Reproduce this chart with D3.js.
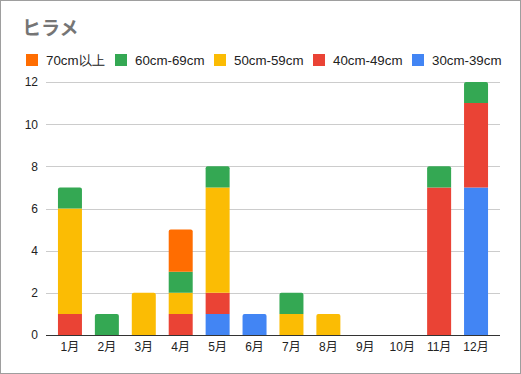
<!DOCTYPE html>
<html>
<head>
<meta charset="utf-8">
<script src="https://cdn.jsdelivr.net/npm/d3@7"></script>
<style>
  body { margin: 0; background: #fff; }
  svg { display: block; font-family: "Liberation Sans", Arial, sans-serif; }
</style>
</head>
<body>
<div class="chart"></div>
<script>
// data
var months = ["1月", "2月", "3月", "4月", "5月", "6月", "7月", "8月", "9月", "10月", "11月", "12月"];
var s30 = [0, 0, 0, 0, 1, 1, 0, 0, 0, 0, 0, 7];
var s40 = [1, 0, 0, 1, 1, 0, 0, 0, 0, 0, 7, 4];
var s50 = [5, 0, 2, 1, 5, 0, 1, 1, 0, 0, 0, 0];
var s60 = [1, 1, 0, 1, 1, 0, 1, 0, 0, 0, 1, 1];
var s70 = [0, 0, 0, 2, 0, 0, 0, 0, 0, 0, 0, 0];
var seriesNames = ["30cm-39cm", "40cm-49cm", "50cm-59cm", "60cm-69cm", "70cm以上"];
var seriesColors = ["#4285f4", "#ea4335", "#fbbc04", "#34a853", "#ff6d01"];
var yTicks = [0, 2, 4, 6, 8, 10, 12];

var width = 521, height = 374;

var rows = months.map(function (m, i) {
    return { month: m, s0: s30[i], s1: s40[i], s2: s50[i], s3: s60[i], s4: s70[i] };
});
var keys = ["s0", "s1", "s2", "s3", "s4"];

const svg = d3.select(".chart")
    .append("svg")
    .attr("width", width)
    .attr("height", height);

// frame
svg.append("rect")
    .attr("x", 0.5).attr("y", 0.5)
    .attr("width", width - 1).attr("height", height - 1)
    .attr("fill", "#fff")
    .attr("stroke", "#9e9e9e");

// title
svg.append("text")
    .attr("x", 22).attr("y", 35)
    .attr("font-family", "'Noto Sans CJK JP', sans-serif")
    .attr("font-weight", "bold")
    .attr("font-size", 19)
    .attr("fill", "#757575")
    .text("ヒラメ");

// legend (reverse order)
var legendX = [26, 115, 214, 313, 412];
var legendOrder = [4, 3, 2, 1, 0];
legendOrder.forEach(function (si, i) {
    var g = svg.append("g").attr("transform", `translate(${legendX[i]},54)`);
    g.append("rect").attr("width", 12).attr("height", 12).attr("fill", seriesColors[si]);
    g.append("text")
        .attr("x", 20).attr("y", 10.5)
        .attr("font-size", 13.3)
        .attr("fill", "#222")
        .text(seriesNames[si]);
});

var x = d3.scaleBand()
    .domain(months)
    .range([51.5, 494.5])
    .paddingInner(0.35)
    .paddingOuter(0.175);

var y = d3.scaleLinear()
    .domain([0, 12])
    .range([335, 82]);

// grid
svg.append("g")
    .selectAll("line")
    .data(yTicks.slice(1))
    .join("line")
    .attr("x1", 46).attr("x2", 500)
    .attr("y1", d => Math.round(y(d)) + 0.5)
    .attr("y2", d => Math.round(y(d)) + 0.5)
    .attr("stroke", "#cccccc");

var yAxis = svg.append("g")
    .attr("transform", "translate(46,0)")
    .call(d3.axisLeft(y).tickValues(yTicks).tickSize(0).tickPadding(8));
yAxis.select(".domain").remove();
yAxis.selectAll("text").attr("font-size", 12).attr("fill", "#222").attr("font-family", "'Liberation Sans', Arial, sans-serif");

// stacked bars, the top segment of each bar gets rounded top corners
var stack = d3.stack().keys(keys)(rows);
var totals = rows.map(r => d3.sum(keys, k => r[k]));

function segPath(d, i) {
    var x0 = x(d.data.month), w = x.bandwidth();
    var yt = y(d[1]), yb = y(d[0]);
    var r = (d[1] === totals[i] && d[1] > d[0]) ? 2 : 0;
    return `M${x0},${yb}V${yt + r}Q${x0},${yt} ${x0 + r},${yt}H${x0 + w - r}Q${x0 + w},${yt} ${x0 + w},${yt + r}V${yb}Z`;
}

svg.append("g")
    .selectAll("g")
    .data(stack)
    .join("g")
    .attr("fill", (d, i) => seriesColors[i])
    .selectAll("path")
    .data(d => d.filter(v => v[1] > v[0]).map(v => v))
    .join("path")
    .attr("d", d => segPath(d, months.indexOf(d.data.month)));

// baseline
svg.append("line")
    .attr("x1", 46).attr("x2", 500)
    .attr("y1", 335.5).attr("y2", 335.5)
    .attr("stroke", "#333");

var xAxis = svg.append("g")
    .attr("transform", "translate(0,336)")
    .call(d3.axisBottom(x).tickSize(0).tickPadding(6));
xAxis.select(".domain").remove();
xAxis.selectAll("text").attr("font-size", 12).attr("fill", "#222").attr("font-family", "'Liberation Sans', 'Noto Sans CJK JP', sans-serif");
</script>
</body>
</html>
